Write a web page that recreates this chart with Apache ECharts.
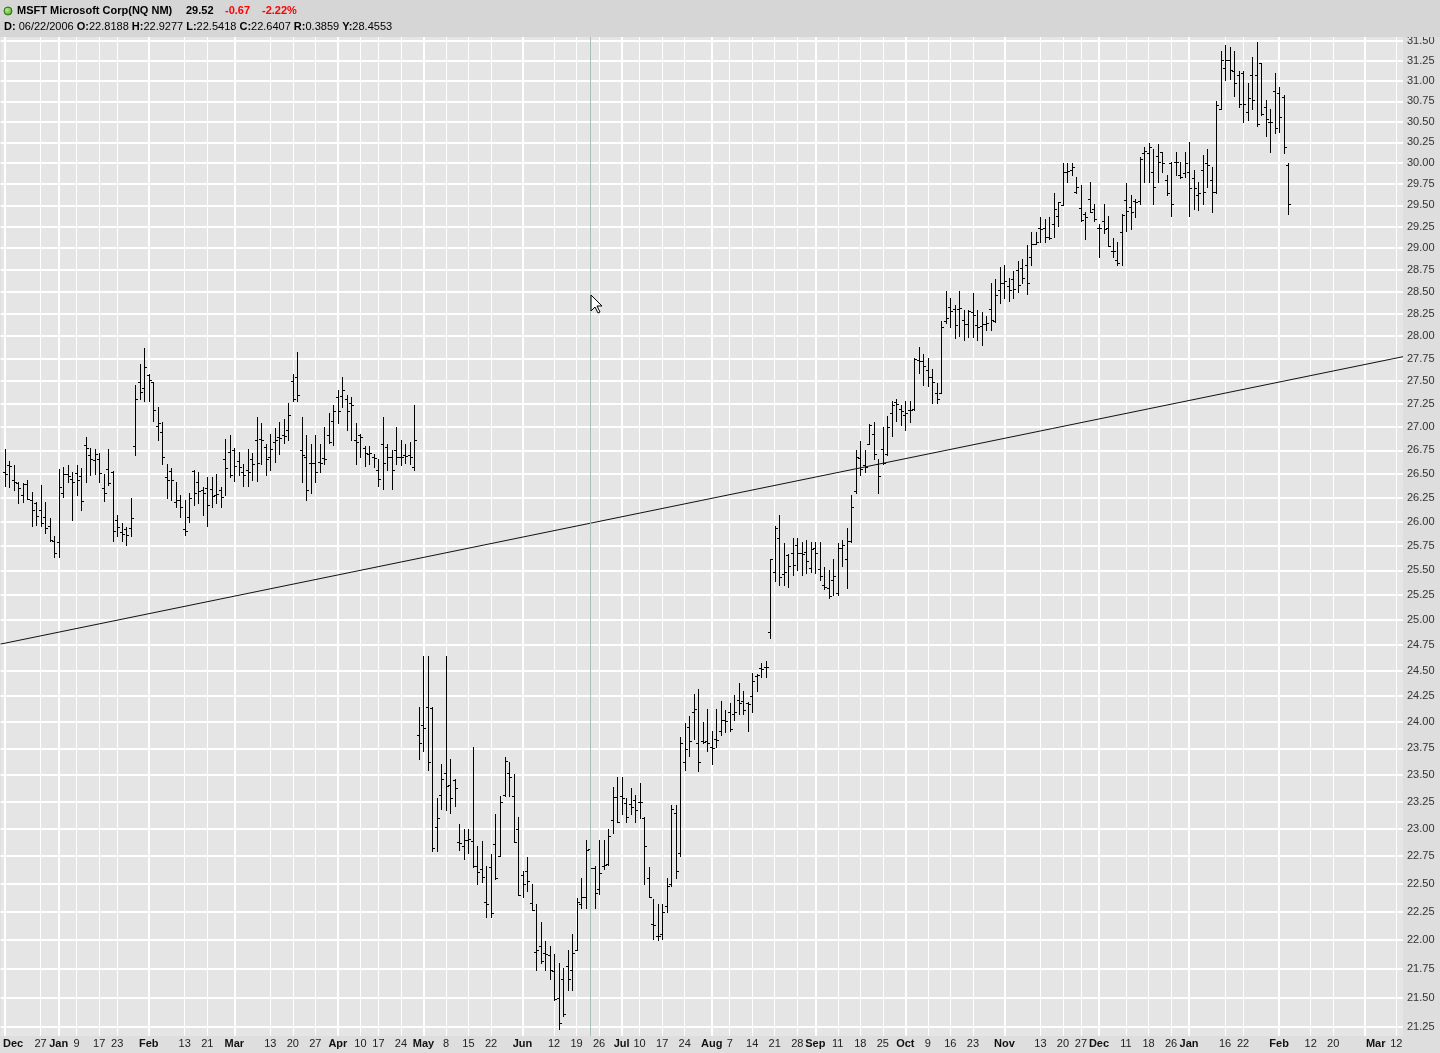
<!DOCTYPE html>
<html><head><meta charset="utf-8">
<script src="https://cdn.jsdelivr.net/npm/echarts@6/dist/echarts.min.js"></script>
<style>html,body{margin:0;padding:0;background:#dedede;}#chart{width:1440px;height:1053px;}</style>
</head><body><div id="chart"></div>
<script>
// ---------------- data ----------------
const firstDate = '2005-12-14';
const lastAxisDate = '2007-03-16';
const holidays = ['2005-12-26','2006-01-02','2006-01-16','2006-02-20','2006-04-14','2006-05-29','2006-07-04',
  '2006-09-04','2006-11-23','2006-12-25','2007-01-01','2007-01-02','2007-01-15','2007-02-19'];

const openP = [
26.52,26.60,26.44,26.40,26.28,26.39,26.23,26.19,
26.12,26.05,25.95,25.80,25.79,26.30,26.50,26.45,26.51,26.48,
26.81,26.70,26.65,26.66,26.35,26.55,26.52,26.02,25.89,25.92,
25.93,26.80,27.49,27.43,27.57,27.49,27.01,26.95,26.47,26.53,
26.20,26.23,25.92,26.05,26.53,26.42,26.33,26.35,26.34,26.28,
26.33,26.66,26.73,26.75,26.64,26.52,26.54,26.66,26.86,26.87,
26.79,26.68,26.84,26.89,26.92,26.97,27.50,27.55,26.75,26.68,
26.62,26.62,26.63,26.67,26.91,27.07,27.33,27.34,27.31,27.26,
26.86,26.91,26.78,26.71,26.68,26.54,26.82,26.79,26.68,26.75,
26.68,26.70,26.70,26.57,23.88,23.97,24.15,24.14,23.02,23.31,
23.52,23.41,23.45,22.88,22.84,22.90,22.89,22.66,22.63,22.34,
22.65,22.86,22.75,23.31,23.52,23.30,23.00,22.58,22.62,22.33,
21.90,21.95,21.89,21.87,21.73,21.50,21.66,21.77,21.74,21.91,
22.32,22.38,22.8188,22.64,22.45,22.66,22.68,23.08,23.29,23.30,
23.24,23.23,23.27,23.25,23.10,22.55,22.14,22.04,22.05,22.30,
22.50,23.15,22.78,23.62,23.95,24.10,23.80,23.82,23.82,23.76,
23.84,23.92,24.02,24.10,24.08,24.21,24.20,24.18,24.25,24.45,
24.52,24.53,24.88,25.48,25.83,25.46,25.66,25.68,25.76,25.68,
25.69,25.52,25.73,25.51,25.35,25.32,25.40,25.27,25.73,25.62,
25.80,26.32,26.67,26.60,26.82,26.93,26.61,26.77,26.71,27.15,
27.27,27.20,27.13,27.19,27.20,27.73,27.72,27.62,27.55,27.37,
27.37,28.17,28.33,28.30,28.30,28.18,28.13,28.27,28.12,28.11,
28.13,28.30,28.17,28.52,28.60,28.56,28.64,28.75,28.77,28.81,
28.90,29.05,29.23,29.23,29.13,29.28,29.38,29.50,29.90,29.92,
29.66,29.47,29.40,29.58,29.46,29.23,29.32,29.23,28.97,28.86,
29.19,29.56,29.48,29.55,29.55,30.12,30.12,29.90,30.09,30.13,
29.80,30.00,30.02,29.86,29.88,29.90,29.82,29.62,29.92,30.00,
29.80,29.66,30.65,31.16,31.26,31.12,31.08,31.10,30.62,31.08,
31.08,31.22,30.68,30.50,30.88,30.85,30.80,29.98];

const highP = [
26.76,26.64,26.60,26.42,26.40,26.44,26.31,26.20,
26.38,26.20,26.04,25.85,26.55,26.57,26.60,26.52,26.59,26.56,
26.89,26.78,26.77,26.72,26.50,26.77,26.53,26.07,25.99,25.94,
26.25,27.46,27.69,27.87,27.58,27.49,27.22,27.05,26.61,26.56,
26.42,26.28,26.23,26.30,26.54,26.52,26.36,26.47,26.47,26.50,
26.36,26.87,26.91,26.78,26.73,26.61,26.77,26.72,27.11,27.04,
26.82,26.93,26.99,27.05,27.09,27.26,27.58,27.82,27.11,26.91,
26.82,26.91,26.82,27.00,27.15,27.24,27.40,27.55,27.35,27.33,
27.04,26.93,26.80,26.80,26.71,26.66,27.11,26.82,26.75,27.00,
26.86,26.82,26.84,27.24,24.15,24.64,24.64,24.15,23.28,23.60,
24.64,23.65,23.46,23.04,23.00,23.00,23.76,22.84,22.89,22.66,
22.77,23.14,23.30,23.67,23.62,23.51,23.11,22.62,22.74,22.50,
22.32,22.16,21.99,21.95,21.88,21.80,21.76,21.91,22.05,22.37,
22.55,22.90,22.9277,22.66,22.90,22.90,23.00,23.39,23.48,23.48,
23.28,23.38,23.31,23.42,23.11,22.65,22.36,22.32,22.32,22.55,
23.22,23.22,23.86,23.99,24.06,24.27,24.32,24.00,24.13,23.92,
24.13,24.20,24.12,24.18,24.26,24.38,24.30,24.19,24.48,24.47,
24.57,24.59,25.62,25.95,26.07,25.78,25.67,25.83,25.83,25.79,
25.81,25.79,25.79,25.79,25.53,25.50,25.62,25.78,25.81,25.93,
26.28,26.75,26.85,26.75,27.03,27.05,26.66,27.00,27.12,27.28,
27.30,27.24,27.28,27.28,27.76,27.88,27.80,27.75,27.63,27.48,
28.17,28.51,28.43,28.35,28.51,28.29,28.29,28.48,28.29,28.27,
28.22,28.60,28.64,28.78,28.81,28.66,28.74,28.85,28.88,29.04,
29.19,29.19,29.36,29.34,29.36,29.64,29.54,30.00,30.00,30.00,
29.84,29.74,29.42,29.78,29.52,29.28,29.52,29.38,29.12,29.07,
29.40,29.76,29.62,29.58,30.07,30.20,30.24,30.17,30.23,30.13,
29.86,30.02,30.14,30.02,30.14,30.25,29.92,29.78,30.10,30.17,
29.96,30.75,31.38,31.45,31.43,31.37,31.13,31.13,30.97,31.30,
31.49,31.22,30.77,30.65,31.10,30.93,30.83,30.00];

const lowP = [
26.37,26.36,26.33,26.19,26.20,26.24,25.95,25.97,
25.95,25.88,25.80,25.64,25.64,26.26,26.42,26.02,26.28,26.12,
26.42,26.49,26.50,26.42,26.22,26.38,25.80,25.85,25.80,25.76,
25.85,26.70,27.30,27.28,27.28,27.07,26.86,26.61,26.25,26.23,
26.15,26.05,25.86,26.00,26.17,26.19,26.07,25.96,26.15,26.19,
26.15,26.28,26.47,26.43,26.49,26.37,26.37,26.44,26.43,26.61,
26.49,26.54,26.63,26.71,26.83,26.86,27.28,27.28,26.42,26.23,
26.30,26.42,26.52,26.61,26.83,26.81,27.04,27.22,26.97,26.86,
26.61,26.68,26.58,26.61,26.57,26.37,26.34,26.54,26.34,26.61,
26.59,26.62,26.61,26.54,23.65,23.73,23.55,22.80,22.80,23.18,
23.17,23.15,23.21,22.81,22.72,22.78,22.65,22.50,22.52,22.20,
22.20,22.54,22.75,23.30,23.30,22.88,22.40,22.38,22.44,22.27,
21.74,21.80,21.74,21.66,21.48,21.23,21.34,21.57,21.57,21.91,
22.28,22.28,22.5418,22.28,22.41,22.63,22.67,22.96,23.06,23.14,
23.06,23.14,23.06,23.10,22.50,22.38,22.01,22.00,22.01,22.25,
22.48,22.55,22.75,23.55,23.68,23.84,23.54,23.80,23.73,23.60,
23.76,23.88,23.91,23.92,24.02,24.08,24.08,23.92,24.10,24.30,
24.44,24.44,24.82,25.39,25.35,25.35,25.33,25.45,25.50,25.45,
25.47,25.48,25.47,25.40,25.31,25.22,25.25,25.25,25.54,25.32,
25.79,26.30,26.49,26.52,26.82,26.66,26.30,26.61,26.70,26.90,
27.07,27.02,26.97,27.05,27.19,27.59,27.46,27.45,27.26,27.26,
27.37,28.15,28.10,27.98,28.00,27.96,27.99,27.99,27.96,27.90,
28.07,28.07,28.16,28.37,28.43,28.39,28.43,28.50,28.60,28.47,
28.81,29.05,29.07,29.07,29.11,29.13,29.26,29.50,29.78,29.86,
29.64,29.32,29.11,29.42,29.32,28.90,29.18,29.03,28.90,28.81,
28.81,29.20,29.22,29.36,29.52,29.78,29.78,29.52,29.78,29.90,
29.62,29.38,29.86,29.82,29.83,29.38,29.46,29.44,29.52,29.72,
29.42,29.64,30.65,31.01,31.03,30.82,30.68,30.50,30.52,30.65,
30.45,30.58,30.33,30.13,30.36,30.37,30.12,29.40];

const closeP = [
26.50,26.58,26.41,26.35,26.39,26.24,26.12,26.06,
25.99,25.93,25.81,25.68,26.36,26.50,26.48,26.42,26.44,26.22,
26.78,26.66,26.71,26.51,26.30,26.40,25.90,25.94,25.87,25.86,
26.04,27.30,27.38,27.66,27.51,27.19,27.04,26.68,26.44,26.44,
26.23,26.15,25.90,26.25,26.30,26.32,26.30,26.17,26.27,26.29,
26.26,26.56,26.49,26.58,26.57,26.49,26.52,26.61,26.62,26.86,
26.66,26.77,26.86,26.88,26.90,27.13,27.30,27.35,26.70,26.33,
26.62,26.52,26.62,26.66,26.84,27.17,27.17,27.40,27.17,27.24,
26.84,26.89,26.72,26.72,26.67,26.45,26.62,26.68,26.54,26.68,
26.68,26.69,26.68,26.86,23.80,23.94,23.62,22.82,23.10,23.46,
23.40,23.28,23.38,22.87,22.90,22.91,22.66,22.61,22.56,22.32,
22.24,22.55,23.25,23.63,23.48,22.88,22.40,22.50,22.53,22.27,
21.91,21.82,21.88,21.74,21.49,21.28,21.36,21.66,21.89,22.34,
22.38,22.81,22.6407,22.42,22.60,22.67,22.93,23.29,23.06,23.28,
23.11,23.20,23.17,23.25,22.84,22.38,22.13,22.04,22.25,22.48,
23.18,22.62,23.80,23.74,23.82,24.13,23.62,23.81,23.80,23.75,
23.83,24.02,24.01,23.93,24.10,24.18,24.12,24.17,24.40,24.46,
24.51,24.53,25.62,25.93,25.43,25.48,25.54,25.55,25.68,25.67,
25.59,25.72,25.68,25.44,25.33,25.24,25.44,25.73,25.76,25.80,
26.15,26.68,26.55,26.57,27.02,26.71,26.48,26.62,27.00,27.24,
27.25,27.17,27.15,27.19,27.74,27.72,27.67,27.55,27.49,27.30,
28.10,28.20,28.28,28.12,28.32,28.14,28.28,28.24,28.10,28.13,
28.15,28.18,28.46,28.60,28.62,28.52,28.53,28.58,28.66,28.60,
29.05,29.07,29.22,29.13,29.12,29.46,29.54,29.90,29.91,29.96,
29.72,29.33,29.36,29.42,29.34,29.23,29.22,29.03,28.97,28.83,
29.39,29.43,29.42,29.54,30.05,30.15,30.20,29.72,30.02,30.00,
29.64,29.52,30.02,29.84,30.00,29.70,29.70,29.64,29.66,29.98,
29.66,30.70,31.26,31.26,31.14,30.97,30.72,30.72,30.79,30.77,
30.47,30.60,30.53,30.50,30.42,30.56,30.19,29.52];

const monthTicks = ['2005-12-14','2006-01-03','2006-02-01','2006-03-01','2006-04-03','2006-05-01','2006-06-01',
  '2006-07-03','2006-08-01','2006-09-01','2006-10-02','2006-11-01','2006-12-01','2007-01-03','2007-02-01','2007-03-01'];
const dayTicks = ['2005-12-27','2006-01-09','2006-01-17','2006-01-23','2006-02-13','2006-02-21','2006-03-13',
  '2006-03-20','2006-03-27','2006-04-10','2006-04-17','2006-04-24','2006-05-08','2006-05-15','2006-05-22',
  '2006-06-12','2006-06-19','2006-06-26','2006-07-10','2006-07-17','2006-07-24','2006-08-07','2006-08-14',
  '2006-08-21','2006-08-28','2006-09-11','2006-09-18','2006-09-25','2006-10-09','2006-10-16','2006-10-23',
  '2006-11-13','2006-11-20','2006-11-27','2006-12-11','2006-12-18','2006-12-26','2007-01-16','2007-01-22',
  '2007-02-12','2007-02-20','2007-03-12'];
const monthNames = ['Jan','Feb','Mar','Apr','May','Jun','Jul','Aug','Sep','Oct','Nov','Dec'];

const yTicks = [21.25,21.50,21.75,22.00,22.25,22.50,22.75,23.00,23.25,23.50,23.75,24.00,24.25,24.50,24.75,
  25.00,25.25,25.50,25.75,26.00,26.25,26.50,26.75,27.00,27.25,27.50,27.75,28.00,28.25,28.50,28.75,
  29.00,29.25,29.50,29.75,30.00,30.25,30.50,30.75,31.00,31.25,31.50];
const yRange = [21.174, 31.55];
const xRange = [-0.88, 310.5];
const trendLine = [[-0.88, 24.76], [310.5, 27.77]];
const cursorDate = '2006-06-22';
const cursorY = 28.4553;

// ---------------- build ----------------
function tradingDays(start, end, hol) {
  const out = []; const d = new Date(start + 'T00:00:00Z'); const e = new Date(end + 'T00:00:00Z');
  while (d <= e) {
    const wd = d.getUTCDay(); const s = d.toISOString().slice(0, 10);
    if (wd !== 0 && wd !== 6 && hol.indexOf(s) < 0) out.push(s);
    d.setUTCDate(d.getUTCDate() + 1);
  }
  return out;
}
const dates = tradingDays(firstDate, lastAxisDate, holidays);
const FONT = 'Liberation Sans';

const labelMap = {};
const monthIdx = monthTicks.map(s => dates.indexOf(s));
const dayIdx = dayTicks.map(s => dates.indexOf(s));
monthTicks.forEach((s, k) => {
  const style = k === 0 ? 'm0' : (k === monthTicks.length - 1 ? 'm1' : 'm');
  labelMap[monthIdx[k]] = '{' + style + '|' + monthNames[parseInt(s.slice(5, 7), 10) - 1] + '}';
});
dayTicks.forEach((s, k) => { labelMap[dayIdx[k]] = String(parseInt(s.slice(8, 10), 10)); });
const allIdx = monthIdx.concat(dayIdx).sort((a, b) => a - b);

const bars = openP.map((o, i) => [i, Math.log(o), Math.log(highP[i]), Math.log(lowP[i]), Math.log(closeP[i])]);
const yTickLn = yTicks.map(v => Math.log(v));

const ci = dates.indexOf(cursorDate);
const n = closeP.length;
const last = closeP[n - 1], prev = closeP[n - 2];
const chg = last - prev;
const pct = chg / prev * 100;
const cd = cursorDate.split('-');
const line2 = '{b|D:} ' + cd[1] + '/' + cd[2] + '/' + cd[0] +
  ' {b|O:}' + openP[ci].toFixed(4) + ' {b|H:}' + highP[ci].toFixed(4) +
  ' {b|L:}' + lowP[ci].toFixed(4) + ' {b|C:}' + closeP[ci].toFixed(4) +
  ' {b|R:}' + (highP[ci] - lowP[ci]).toFixed(4) + ' {b|Y:}' + cursorY.toFixed(4);

const chart = echarts.init(document.getElementById('chart'));
const option = {
  animation: false,
  backgroundColor: '#dedede',
  grid: { left: 0, right: 37, top: 37, bottom: 17, show: true, backgroundColor: '#e5e5e5', borderWidth: 0 },
  xAxis: [{
    type: 'value', min: xRange[0], max: xRange[1], position: 'bottom',
    axisLine: { show: false },
    axisTick: { show: false, customValues: allIdx },
    splitLine: { show: true, customValues: allIdx, lineStyle: { color: '#ffffff', width: 1 } },
    axisLabel: {
      customValues: allIdx, margin: 2, fontFamily: FONT, fontSize: 11, color: '#222', hideOverlap: false,
      formatter: v => labelMap[Math.round(v)] || '',
      rich: {
        m: { fontWeight: 'bold', fontFamily: FONT, fontSize: 11, color: '#111' },
        m0: { fontWeight: 'bold', fontFamily: FONT, fontSize: 11, color: '#111', padding: [0, 0, 0, 17] },
        m1: { fontWeight: 'bold', fontFamily: FONT, fontSize: 11, color: '#111', padding: [0, 0, 0, 22] }
      }
    }
  }, {
    type: 'value', min: xRange[0], max: xRange[1], position: 'bottom',
    axisLine: { show: false },
    axisTick: { show: false, customValues: monthIdx },
    axisLabel: { show: false, customValues: monthIdx },
    splitLine: { show: true, customValues: monthIdx, lineStyle: { color: '#ffffff', width: 2 } }
  }],
  yAxis: {
    type: 'value', position: 'right', min: Math.log(yRange[0]), max: Math.log(yRange[1]),
    axisLine: { show: false },
    axisTick: { show: false, customValues: yTickLn },
    splitLine: { show: true, customValues: yTickLn, lineStyle: { color: '#ffffff', width: 2 } },
    axisLabel: {
      customValues: yTickLn, margin: 4, fontFamily: FONT, fontSize: 11, color: '#333',
      formatter: v => Math.exp(v).toFixed(2)
    }
  },
  series: [{
    type: 'custom', xAxisIndex: 0, yAxisIndex: 0, clip: true,
    encode: { x: 0, y: [1, 2, 3, 4] },
    data: bars,
    renderItem: function (params, api) {
      const xv = api.value(0);
      const pO = api.coord([xv, api.value(1)]);
      const pH = api.coord([xv, api.value(2)]);
      const pL = api.coord([xv, api.value(3)]);
      const pC = api.coord([xv, api.value(4)]);
      const X = Math.round(pH[0]);
      const st = { stroke: '#000', lineWidth: 1 };
      const yo = Math.round(pO[1]) + 0.5, yc = Math.round(pC[1]) + 0.5;
      return { type: 'group', children: [
        { type: 'line', shape: { x1: X + 0.5, y1: Math.round(pH[1]), x2: X + 0.5, y2: Math.round(pL[1]) + 1 }, style: st },
        { type: 'line', shape: { x1: X - 2, y1: yo, x2: X, y2: yo }, style: st },
        { type: 'line', shape: { x1: X + 1, y1: yc, x2: X + 3, y2: yc }, style: st }
      ] };
    }
  }, {
    type: 'line', xAxisIndex: 0, yAxisIndex: 0, silent: true,
    data: trendLine.map(p => [p[0], Math.log(p[1])]),
    symbol: 'none', lineStyle: { color: '#111', width: 1 },
    markLine: {
      silent: true, symbol: ['none', 'none'], label: { show: false },
      lineStyle: { color: '#a8c0b6', width: 1, type: 'solid' },
      data: [{ xAxis: ci }]
    }
  }],
  graphic: [
    { type: 'rect', shape: { x: 0, y: 0, width: 1440, height: 37 }, style: { fill: '#d6d6d6' }, z: 1 },
    { type: 'circle', shape: { cx: 8, cy: 11, r: 4 }, z: 2,
      style: { fill: new echarts.graphic.RadialGradient(0.4, 0.4, 0.7, [{ offset: 0, color: '#b8f08a' }, { offset: 1, color: '#3c9a1c' }]), stroke: '#2f6f18', lineWidth: 1 } },
    { type: 'text', x: 17, y: 11, z: 2, style: { text: 'MSFT Microsoft Corp(NQ NM)', fontFamily: FONT, fontSize: 11, fontWeight: 'bold', fill: '#000', verticalAlign: 'middle' } },
    { type: 'text', x: 186, y: 11, z: 2, style: { text: last.toFixed(2), fontFamily: FONT, fontSize: 11, fontWeight: 'bold', fill: '#000', verticalAlign: 'middle' } },
    { type: 'text', x: 225, y: 11, z: 2, style: { text: chg.toFixed(2), fontFamily: FONT, fontSize: 11, fontWeight: 'bold', fill: '#ff0000', verticalAlign: 'middle' } },
    { type: 'text', x: 262, y: 11, z: 2, style: { text: pct.toFixed(2) + '%', fontFamily: FONT, fontSize: 11, fontWeight: 'bold', fill: '#ff0000', verticalAlign: 'middle' } },
    { type: 'text', x: 4, y: 27, z: 2, style: { text: line2, fontFamily: FONT, fontSize: 11, fill: '#000', verticalAlign: 'middle',
      rich: { b: { fontFamily: FONT, fontSize: 11, fontWeight: 'bold', fill: '#000' } } } },
    { type: 'polygon', x: 591, y: 295, z: 100,
      shape: { points: [[0, 0], [0, 16], [4, 12], [7, 18], [9, 17], [6, 11], [11, 11]] },
      style: { fill: '#ffffff', stroke: '#000000', lineWidth: 1 } }
  ]
};
chart.setOption(option);
</script></body></html>
